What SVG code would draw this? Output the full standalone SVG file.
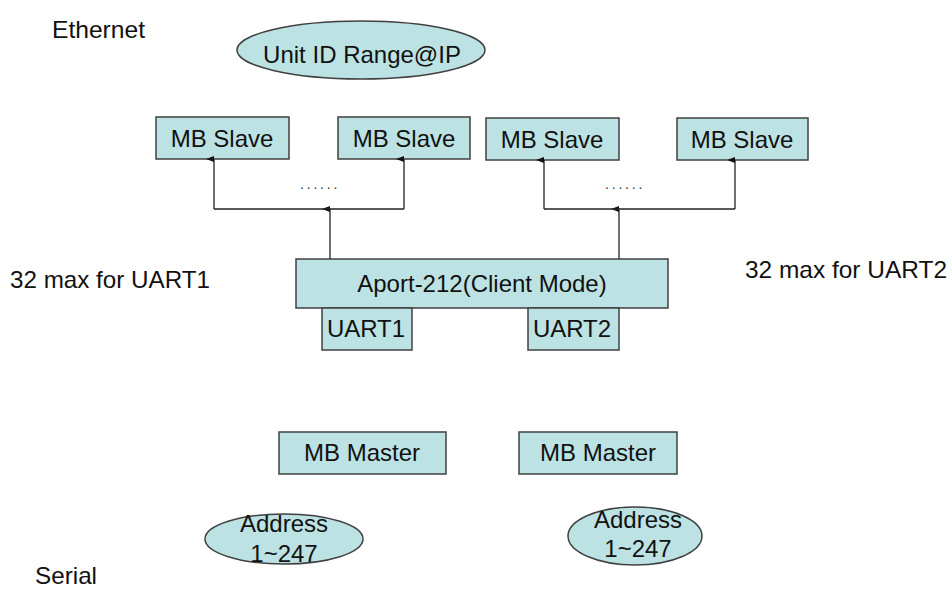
<svg xmlns="http://www.w3.org/2000/svg" width="952" height="590" viewBox="0 0 952 590">
<style>
.n{fill:#bde2e4;stroke:#404040;stroke-width:1.5}
.t{font-family:"Liberation Sans",Arial,sans-serif;font-size:24px;fill:#111}
.c{text-anchor:middle}
.w{fill:none;stroke:#222;stroke-width:1.3}
.d{font-family:"Liberation Sans",Arial,sans-serif;font-size:14px;letter-spacing:2.8px;fill:#333}
</style>
<defs>
<marker id="ah" viewBox="0 0 6 8" refX="3" refY="8" markerWidth="6" markerHeight="8" markerUnits="userSpaceOnUse" orient="auto-start-reverse">
<path d="M0,8 L3,0 L6,8 Z" fill="#111"/>
</marker>
</defs>
<rect width="952" height="590" fill="#fff"/>
<text class="t" x="52" y="38" textLength="93" lengthAdjust="spacingAndGlyphs">Ethernet</text>
<text class="t" x="35" y="584" textLength="62" lengthAdjust="spacingAndGlyphs">Serial</text>
<text class="t" x="10" y="288" textLength="200" lengthAdjust="spacingAndGlyphs">32 max for UART1</text>
<text class="t" x="745" y="278" textLength="202" lengthAdjust="spacingAndGlyphs">32 max for UART2</text>
<g id="unitid"><ellipse class="n" cx="361" cy="50" rx="124" ry="29"/><text class="t c" x="362" y="63">Unit ID Range@IP</text></g>
<g id="slave1"><rect class="n" x="156" y="117" width="133" height="42"/><text class="t c" x="222" y="147">MB Slave</text></g>
<g id="slave2"><rect class="n" x="338" y="117" width="132" height="42"/><text class="t c" x="404" y="147">MB Slave</text></g>
<g id="slave3"><rect class="n" x="486" y="118" width="133" height="42"/><text class="t c" x="552" y="148">MB Slave</text></g>
<g id="slave4"><rect class="n" x="677" y="118" width="131" height="42"/><text class="t c" x="742" y="148">MB Slave</text></g>
<g id="aport"><rect class="n" x="296" y="259" width="372" height="49"/><text class="t c" x="482" y="292">Aport-212(Client Mode)</text></g>
<g id="uart1"><rect class="n" x="322" y="308" width="90" height="42"/><text class="t c" x="366" y="337">UART1</text></g>
<g id="uart2"><rect class="n" x="528" y="308" width="91" height="42"/><text class="t c" x="572" y="337">UART2</text></g>
<g id="master1"><rect class="n" x="279" y="432" width="167" height="42"/><text class="t c" x="362" y="461">MB Master</text></g>
<g id="master2"><rect class="n" x="519" y="432" width="158" height="42"/><text class="t c" x="598" y="461">MB Master</text></g>
<g id="addr1"><ellipse class="n" cx="284" cy="539" rx="79" ry="25"/><text class="t c" x="284" y="532">Address</text><text class="t c" x="284" y="562">1~247</text></g>
<g id="addr2"><ellipse class="n" cx="635" cy="536" rx="67" ry="29"/><text class="t c" x="638" y="528">Address</text><text class="t c" x="638" y="557">1~247</text></g>
<g id="connectors">
<path class="w" d="M330,259 V209" marker-end="url(#ah)"/>
<path class="w" d="M214,209 H404"/>
<path class="w" d="M214,209 V159" marker-end="url(#ah)"/>
<path class="w" d="M404,209 V159" marker-end="url(#ah)"/>
<path class="w" d="M619,259 V209" marker-end="url(#ah)"/>
<path class="w" d="M544,209 H735"/>
<path class="w" d="M544,209 V160" marker-end="url(#ah)"/>
<path class="w" d="M735,209 V160" marker-end="url(#ah)"/>
</g>
<text class="d" x="300" y="189">......</text>
<text class="d" x="605" y="189">......</text>
</svg>
